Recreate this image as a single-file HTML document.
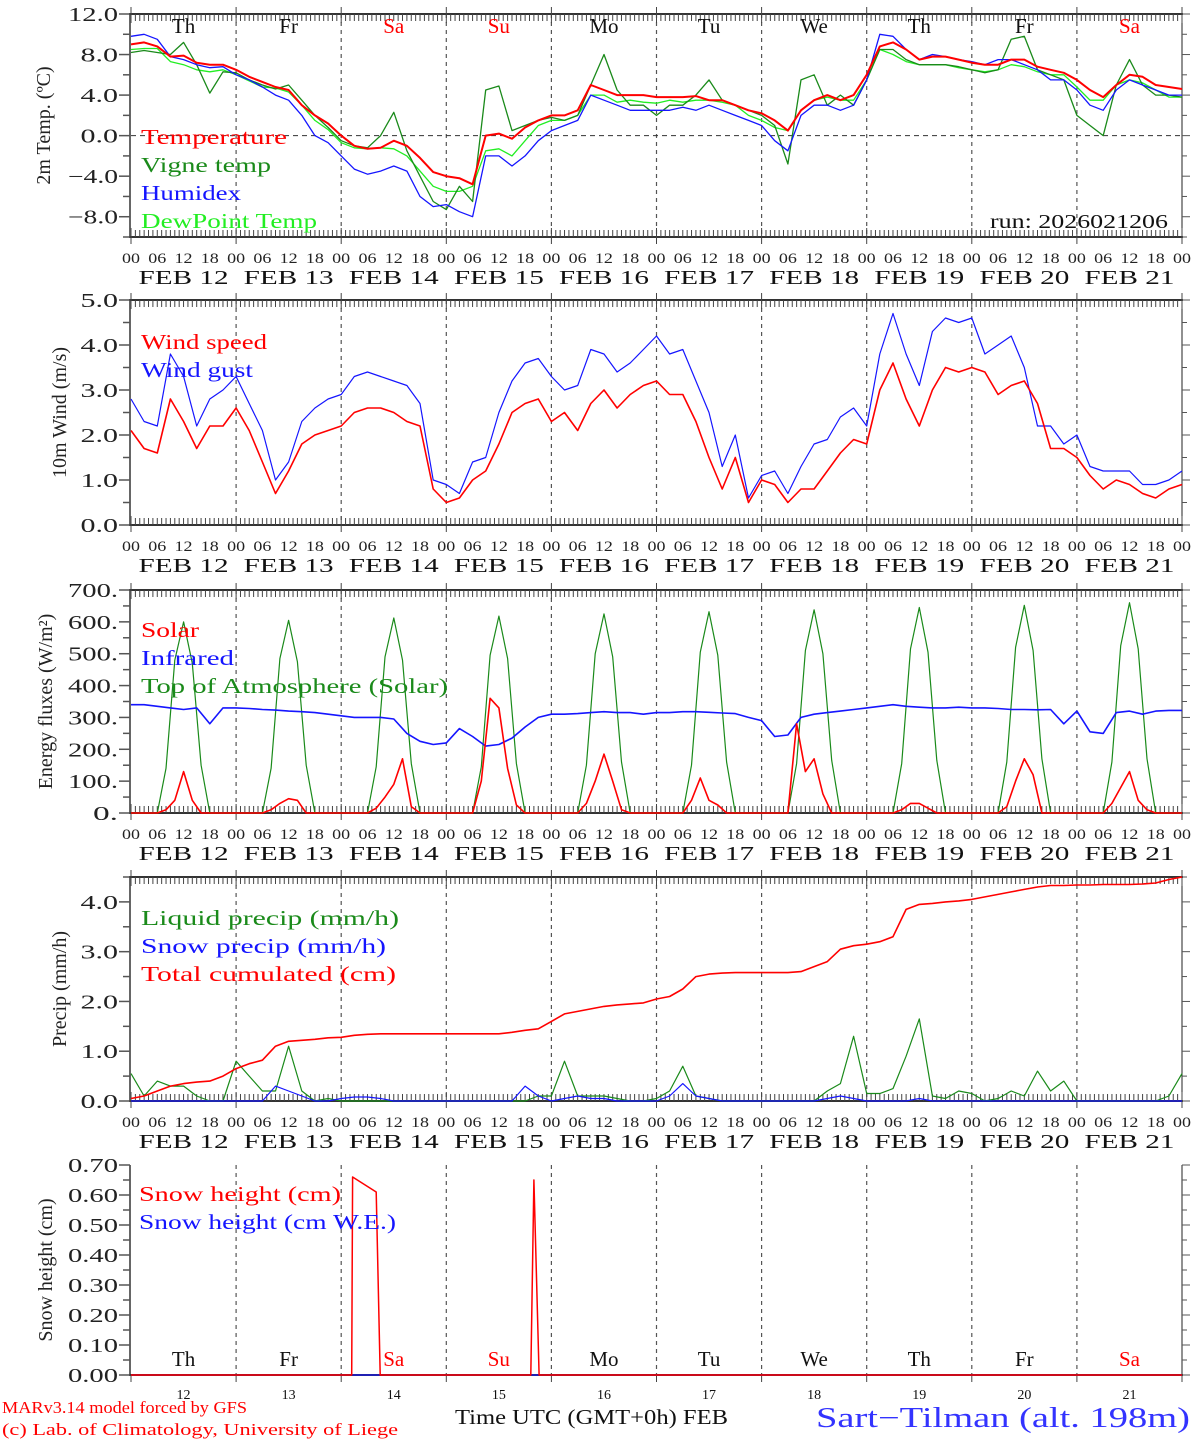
<!DOCTYPE html>
<html><head><meta charset="utf-8"><style>
html,body{margin:0;padding:0;background:#fff;}
svg{display:block;font-family:"Liberation Serif",serif;}
</style></head><body>
<svg id="chart" width="1194" height="1440" viewBox="0 0 1194 1440" xmlns="http://www.w3.org/2000/svg"></svg>
<script>
// ---------- DATA ----------
const days = ["FEB 12","FEB 13","FEB 14","FEB 15","FEB 16","FEB 17","FEB 18","FEB 19","FEB 20","FEB 21"];
const dayNames = ["Th","Fr","Sa","Su","Mo","Tu","We","Th","Fr","Sa"];
const dayNums = ["12","13","14","15","16","17","18","19","20","21"];
const hourLabels = ["00","06","12","18"];
// 3-hourly temperature series
const tempT = [9.0,9.2,8.8,7.8,7.9,7.2,7.0,7.0, 6.5,5.8,5.3,4.8,4.5,3.0,2.0,1.2, 0.0,-1.0,-1.3,-1.2,-0.5,-1.0,-2.2,-3.6, -4.0,-4.2,-4.8,0.0,0.2,-0.3,0.8,1.5, 2.0,2.0,2.5,5.0,4.5,4.0,4.0,4.0, 3.8,3.8,3.8,3.9,3.5,3.5,3.0,2.5, 2.2,1.5,0.5,2.5,3.5,4.0,3.5,4.0, 6.0,8.8,9.2,8.5,7.5,7.8,7.8,7.5, 7.2,7.0,7.0,7.5,7.5,6.8,6.5,6.2, 5.5,4.5,3.8,5.0,6.0,5.8,5.0,4.8, 4.6];
const tempVigne = [8.2,8.4,8.2,8.0,9.2,7.0,4.2,6.3, 6.2,5.5,5.0,4.6,5.0,3.5,2.0,0.8, -0.5,-1.0,-1.2,0.0,2.3,-1.5,-4.0,-6.5, -7.3,-5.0,-6.5,4.5,4.9,0.5,1.0,1.5, 1.8,1.5,2.0,5.0,8.0,4.5,3.0,3.0, 2.0,3.0,3.0,4.0,5.5,3.5,3.0,2.5, 2.0,1.0,-2.8,5.5,6.0,3.0,4.0,3.0, 5.5,8.5,8.5,7.5,7.0,7.0,7.0,6.8, 6.5,6.2,6.5,9.5,9.8,6.5,6.0,5.5, 2.0,1.0,0.0,5.0,7.5,5.0,4.0,4.0, 3.8];
const tempHumidex = [9.8,10.0,9.5,7.8,7.5,7.0,6.7,6.8, 6.0,5.5,4.8,4.0,3.5,2.0,0.0,-0.7, -2.0,-3.3,-3.8,-3.5,-3.0,-3.5,-6.0,-7.0, -6.8,-7.5,-8.0,-2.0,-2.0,-3.0,-2.0,-0.5, 0.5,1.0,1.5,4.0,3.5,3.0,2.5,2.5, 2.5,2.5,2.8,2.5,3.0,2.5,2.0,1.5, 1.0,-0.5,-1.5,2.0,3.0,3.0,2.5,3.0, 5.5,10.0,9.8,8.5,7.5,8.0,7.8,7.5, 7.3,7.0,7.5,7.5,7.0,6.5,5.5,5.5, 4.5,3.0,2.5,4.5,5.5,5.0,4.5,4.0, 4.0];
const tempDew = [8.5,8.6,8.6,7.3,7.0,6.5,6.3,6.5, 6.0,5.4,4.8,4.7,4.3,3.0,1.5,0.6, -0.7,-1.2,-1.3,-1.2,-1.3,-2.0,-3.5,-5.0, -5.5,-5.5,-5.0,-1.5,-1.3,-2.0,-0.5,1.0, 1.5,1.5,2.0,4.0,4.0,3.3,3.5,3.3, 3.2,3.5,3.3,3.5,3.5,3.3,3.0,2.0, 1.5,0.8,0.5,2.5,3.5,3.8,3.5,3.5, 5.5,8.5,8.0,7.3,7.0,7.0,7.0,6.7, 6.5,6.3,6.5,7.0,6.8,6.3,6.0,6.0, 4.8,3.5,3.5,5.0,5.5,5.2,4.5,3.8, 3.8];
// 3-hourly wind
const windSpeed = [2.1,1.7,1.6,2.8,2.3,1.7,2.2,2.2, 2.6,2.1,1.4,0.7,1.2,1.8,2.0,2.1, 2.2,2.5,2.6,2.6,2.5,2.3,2.2,0.8, 0.5,0.6,1.0,1.2,1.8,2.5,2.7,2.8, 2.3,2.5,2.1,2.7,3.0,2.6,2.9,3.1, 3.2,2.9,2.9,2.3,1.5,0.8,1.5,0.5, 1.0,0.9,0.5,0.8,0.8,1.2,1.6,1.9, 1.8,3.0,3.6,2.8,2.2,3.0,3.5,3.4, 3.5,3.4,2.9,3.1,3.2,2.7,1.7,1.7, 1.5,1.1,0.8,1.0,0.9,0.7,0.6,0.8, 0.9];
const windGust = [2.8,2.3,2.2,3.8,3.3,2.2,2.8,3.0, 3.3,2.7,2.1,1.0,1.4,2.3,2.6,2.8, 2.9,3.3,3.4,3.3,3.2,3.1,2.7,1.0, 0.9,0.7,1.4,1.5,2.5,3.2,3.6,3.7, 3.3,3.0,3.1,3.9,3.8,3.4,3.6,3.9, 4.2,3.8,3.9,3.2,2.5,1.3,2.0,0.6, 1.1,1.2,0.7,1.3,1.8,1.9,2.4,2.6, 2.2,3.8,4.7,3.8,3.1,4.3,4.6,4.5, 4.6,3.8,4.0,4.2,3.5,2.2,2.2,1.8, 2.0,1.3,1.2,1.2,1.2,0.9,0.9,1.0, 1.2];
// 2-hourly energy
const solar = [0,0,0,0,10,40,130,40,0,0,0,0, 0,0,0,0,10,30,45,40,0,0,0,0, 0,0,0,0,15,50,90,170,20,0,0,0, 0,0,0,0,100,360,330,140,25,0,0,0, 0,0,0,0,30,100,185,100,10,0,0,0, 0,0,0,0,40,110,40,25,0,0,0,0, 0,0,0,0,280,130,170,60,0,0,0,0, 0,0,0,0,10,30,30,15,0,0,0,0, 0,0,0,0,20,100,170,120,0,0,0,0, 0,0,0,0,30,80,130,40,10,0,0,0, 0];
const toa = [0,0,0,0,140,480,600,470,150,0,0,0, 0,0,0,0,140,485,605,475,150,0,0,0, 0,0,0,0,145,490,612,480,155,0,0,0, 0,0,0,0,145,495,618,485,155,0,0,0, 0,0,0,0,150,500,625,490,160,0,0,0, 0,0,0,0,150,505,632,495,160,0,0,0, 0,0,0,0,155,510,638,500,165,0,0,0, 0,0,0,0,155,515,645,505,165,0,0,0, 0,0,0,0,160,520,652,510,170,0,0,0, 0,0,0,0,160,525,660,515,170,0,0,0, 0];
// 3-hourly infrared
const infrared = [340,340,335,330,325,330,280,330, 330,328,325,323,320,318,315,310, 305,300,300,300,295,250,225,215, 220,265,240,210,215,235,270,300, 310,310,312,315,318,315,315,310, 315,315,318,318,316,314,312,300, 290,240,245,300,310,315,320,325, 330,335,340,335,332,330,330,332, 330,330,328,325,325,324,325,280, 320,255,250,315,320,310,320,322, 322];
// 3-hourly precipitation
const precipCum = [0.05,0.1,0.2,0.3,0.35,0.38,0.4,0.5, 0.65,0.75,0.82,1.1,1.2,1.22,1.24,1.27, 1.28,1.32,1.34,1.35,1.35,1.35,1.35,1.35, 1.35,1.35,1.35,1.35,1.35,1.38,1.42,1.45, 1.6,1.75,1.8,1.85,1.9,1.93,1.95,1.97, 2.05,2.1,2.25,2.5,2.55,2.57,2.58,2.58, 2.58,2.58,2.58,2.6,2.7,2.8,3.05,3.12, 3.15,3.2,3.3,3.85,3.95,3.97,4.0,4.02, 4.05,4.1,4.15,4.2,4.25,4.3,4.33,4.33, 4.34,4.34,4.35,4.35,4.35,4.36,4.38,4.45, 4.5];
const precipLiquid = [0.55,0.1,0.4,0.3,0.3,0.1,0,0, 0.8,0.5,0.2,0.2,1.1,0.2,0.0,0.05, 0,0,0,0,0,0,0,0, 0,0,0,0,0,0,0,0.1, 0.1,0.8,0.1,0.1,0.1,0.05,0,0, 0.05,0.2,0.7,0.1,0.05,0,0,0, 0,0,0,0,0,0.2,0.35,1.3, 0.15,0.15,0.25,0.9,1.65,0.1,0.05,0.2, 0.15,0,0.05,0.2,0.1,0.6,0.2,0.4, 0,0,0,0,0,0,0,0.1, 0.55];
const precipSnow = [0,0,0,0,0,0,0,0, 0,0,0,0.3,0.2,0.1,0,0, 0.05,0.08,0.08,0.05,0,0,0,0, 0,0,0,0,0,0,0.3,0.1, 0,0.05,0.1,0.05,0.05,0,0,0, 0,0.1,0.35,0.1,0.05,0,0,0, 0,0,0,0,0,0.05,0.1,0.05, 0,0,0,0,0.05,0,0,0, 0,0,0,0,0,0,0,0, 0,0,0,0,0,0,0,0, 0];
// snow height (sparse time points, hours since FEB 12 00)
const snowTimes = [0,50.4,50.6,56.0,56.9,91.3,92.0,93.2,240];
const snowHeight = [0,0,0.66,0.61,0,0,0.65,0,0];
const snowWE = [0,0,0,0,0,0,0,0,0];

// ---------- DRAWING ----------
const svg = document.getElementById('chart');
const NS = 'http://www.w3.org/2000/svg';
const X0 = 131, X1 = 1182, HOURS = 240;
function xs(h){ return X0 + (X1 - X0) * h / HOURS; }
function mk(tag, attrs, parent){ const e = document.createElementNS(NS, tag); for (const k in attrs) e.setAttribute(k, attrs[k]); (parent||svg).appendChild(e); return e; }
function txt(s, x, y, attrs, parent){ const e = mk('text', Object.assign({x:x, y:y}, attrs||{}), parent); e.textContent = s; return e; }

function panel(p){
  const g = mk('g', {});
  
  
  const ys = v => p.bot - (p.bot - p.top) * (v - p.min) / (p.max - p.min);
  p.ys = ys;
  for (let d = 1; d < 10; d++){
    const l = mk('line', {x1:xs(d*24), x2:xs(d*24), y1:p.top, y2:p.bot, stroke:'#555', 'stroke-width':1.2, 'stroke-dasharray':'4,4'}, g);
    
    
  }
  if (p.zero){ mk('line', {x1:X0, x2:X1, y1:ys(0), y2:ys(0), stroke:'#333', 'stroke-width':1, 'stroke-dasharray':'5,4'}, g); }
  mk('line', {x1:X0-1, x2:X0-1, y1:p.top, y2:p.bot, stroke:'#666', 'stroke-width':2}, g);
  mk('line', {x1:X1, x2:X1, y1:p.top, y2:p.bot, stroke:'#222', 'stroke-width':1}, g);
  if (p.topAxis) mk('line', {x1:X0-2, x2:X1+1, y1:p.top, y2:p.top, stroke:'#333', 'stroke-width':2}, g);
  mk('line', {x1:X0-2, x2:X1+1, y1:p.bot, y2:p.bot, stroke:'#333', 'stroke-width':2}, g);
  if (p.hourTicks){
    for (let h = 0; h <= 240; h++){
      const x = xs(h), big = h % 24 === 0;
      mk('line', {x1:x, x2:x, y1:p.bot, y2:big ? p.bot+7 : p.bot-7, stroke:'#444', 'stroke-width':1}, g);
      if (big) mk('line', {x1:x, x2:x, y1:p.bot, y2:p.bot-9, stroke:'#444', 'stroke-width':1}, g);
      if (p.topAxis){ mk('line', {x1:x, x2:x, y1:p.top, y2:big ? p.top-7 : p.top+7, stroke:'#444', 'stroke-width':1}, g); if (big) mk('line', {x1:x, x2:x, y1:p.top, y2:p.top+9, stroke:'#444', 'stroke-width':1}, g); }
    }
    for (let h = 0; h <= 240; h += 6){
      const t = txt(hourLabels[(h/6)%4], xs(h), p.bot+26, {'font-size':15, 'text-anchor':'middle', fill:'#222', textLength:18, lengthAdjust:'spacingAndGlyphs'}, g);
      
      
    }
    for (let d = 0; d < 10; d++){
      const t = txt(days[d], xs(d*24+12), p.bot+47, {'font-size':20, 'text-anchor':'middle', fill:'#111', textLength:90, lengthAdjust:'spacingAndGlyphs'}, g);
      
      
    }
  } else {
    for (let d = 0; d <= 10; d++) mk('line', {x1:xs(d*24), x2:xs(d*24), y1:p.bot, y2:p.bot+7, stroke:'#444', 'stroke-width':1}, g);
  }
  for (let v = p.min; v <= p.max + 1e-9; v += p.minor){
    const y = ys(v), major = Math.abs(Math.round(v/p.major)*p.major - v) < 1e-6;
    mk('line', {x1:X0-1, x2:X0-(major?12:8), y1:y, y2:y, stroke:'#555', 'stroke-width':1.5}, g);
    mk('line', {x1:X1, x2:X1+(major?8:5), y1:y, y2:y, stroke:'#555', 'stroke-width':1}, g);
    if (major && v >= p.labMin - 1e-9 && v <= p.labMax + 1e-9){
      const s = p.fmt(v);
      const t = txt(s, 118, y+7, {'font-size':20, 'text-anchor':'end', fill:'#222', textLength:(s.length*12.5).toFixed(1), lengthAdjust:'spacingAndGlyphs'}, g);
      
      
    }
  }
  const yt = txt(p.title, 0, 0, {'font-size':20, 'text-anchor':'middle', fill:'#222', transform:`translate(${p.titleX},${(p.top+p.bot)/2}) rotate(-90)`}, g);
  
  
  return g;
}
function series(p, vals, step, color, width, name, times){
  let d = '';
  vals.forEach((v, i) => { const h = times ? times[i] : i*step; d += (i ? 'L' : 'M') + xs(h).toFixed(1) + ',' + p.ys(v).toFixed(1); });
  const e = mk('path', {d:d, fill:'none', stroke:color, 'stroke-width':width, 'stroke-linejoin':'round'});
  
  
}
function legend(items, x, y0, dy){
  items.forEach((it, i) => {
    const t = txt(it[0], x, y0 + i*dy, {'font-size':21, fill:it[1], textLength:it[2], lengthAdjust:'spacingAndGlyphs'});
    
    
  });
}
const f1 = v => v.toFixed(1);

const P1 = {name:'temperature-panel', top:14, bot:237, min:-10, max:12, major:4, minor:2, labMin:-8, labMax:12, fmt:v=>(v<0?'\u2212':'')+Math.abs(v).toFixed(1), title:'2m Temp. (\u00BAC)', titleX:50, topAxis:true, hourTicks:true, zero:true};
panel(P1);
for (let d = 0; d < 10; d++){
  const t = txt(dayNames[d], xs(d*24+12), 33, {'font-size':21, 'text-anchor':'middle', fill:(d===2||d===3||d===9)?'#f00':'#111'});
  
  
}
series(P1, tempDew, 3, '#22ee22', 1.3, 'dewpoint-line');
series(P1, tempVigne, 3, '#1a8a1a', 1.3, 'vigne-temp-line');
series(P1, tempHumidex, 3, '#1515ff', 1.3, 'humidex-line');
series(P1, tempT, 3, '#ff0000', 2, 'temperature-line');
legend([['Temperature','#f00',146],['Vigne temp','#1a8a1a',130],['Humidex','#1515ff',100],['DewPoint Temp','#22ee22',176]], 141, 144, 28);
const run = txt('run: 2026021206', 1168, 228, {'font-size':20, 'text-anchor':'end', fill:'#111', textLength:178, lengthAdjust:'spacingAndGlyphs'});



const P2 = {name:'wind-panel', top:300, bot:525, min:0, max:5, major:1, minor:0.5, labMin:0, labMax:5, fmt:f1, title:'10m Wind (m/s)', titleX:66, topAxis:true, hourTicks:true};
panel(P2);
series(P2, windGust, 3, '#1515ff', 1.2, 'wind-gust-line');
series(P2, windSpeed, 3, '#ff0000', 1.6, 'wind-speed-line');
legend([['Wind speed','#f00',126],['Wind gust','#1515ff',112]], 141, 349, 28);

const P3 = {name:'energy-panel', top:590, bot:813, min:0, max:700, major:100, minor:50, labMin:0, labMax:700, fmt:v=>v.toFixed(0)+'.', title:'Energy fluxes (W/m\u00B2)', titleX:52, topAxis:true, hourTicks:true};
panel(P3);
series(P3, toa, 2, '#1a8a1a', 1.2, 'toa-solar-line');
series(P3, infrared, 3, '#1515ff', 1.6, 'infrared-line');
series(P3, solar, 2, '#ff0000', 1.6, 'solar-line');
legend([['Solar','#f00',58],['Infrared','#1515ff',93],['Top of Atmosphere (Solar)','#1a8a1a',307]], 141, 637, 28);

const P4 = {name:'precip-panel', top:877, bot:1101, min:0, max:4.5, major:1, minor:0.5, labMin:0, labMax:4, fmt:f1, title:'Precip (mm/h)', titleX:66, topAxis:true, hourTicks:true};
panel(P4);
series(P4, precipLiquid, 3, '#1a8a1a', 1.2, 'liquid-precip-line');
series(P4, precipSnow, 3, '#1515ff', 1.2, 'snow-precip-line');
series(P4, precipCum, 3, '#ff0000', 1.6, 'cumulated-precip-line');
legend([['Liquid precip (mm/h)','#1a8a1a',258],['Snow precip (mm/h)','#1515ff',245],['Total cumulated (cm)','#f00',255]], 141, 925, 28);

const P5 = {name:'snow-panel', top:1165, bot:1375, min:0, max:0.7, major:0.1, minor:0.05, labMin:0, labMax:0.7, fmt:v=>v.toFixed(2), title:'Snow height (cm)', titleX:52, topAxis:false, hourTicks:false};
panel(P5);
for (let d = 0; d < 10; d++){
  const t = txt(dayNames[d], xs(d*24+12), 1366, {'font-size':21, 'text-anchor':'middle', fill:(d===2||d===3||d===9)?'#f00':'#111'});
  
  
  const n = txt(dayNums[d], xs(d*24+12), 1399, {'font-size':14, 'text-anchor':'middle', fill:'#111'});
  
  
}
series(P5, snowWE, 0, '#1515ff', 1.2, 'snow-we-line', snowTimes);
series(P5, snowHeight, 0, '#ff0000', 1.5, 'snow-height-line', snowTimes);
legend([['Snow height (cm)','#f00',202],['Snow height (cm W.E.)','#1515ff',257]], 139, 1201, 28);

const xt = txt('Time UTC (GMT+0h) FEB', 455, 1424, {'font-size':21, fill:'#111', textLength:273, lengthAdjust:'spacingAndGlyphs'});


const c1 = txt('MARv3.14 model forced by GFS', 2, 1413, {'font-size':17, fill:'#f00', textLength:245, lengthAdjust:'spacingAndGlyphs'});


const c2 = txt('(c) Lab. of Climatology, University of Liege', 2, 1435, {'font-size':17, fill:'#f00', textLength:396, lengthAdjust:'spacingAndGlyphs'});


const st = txt('Sart\u2212Tilman (alt. 198m)', 816, 1427, {'font-size':28, fill:'#3333ff', textLength:374, lengthAdjust:'spacingAndGlyphs'});


</script>
</body></html>
